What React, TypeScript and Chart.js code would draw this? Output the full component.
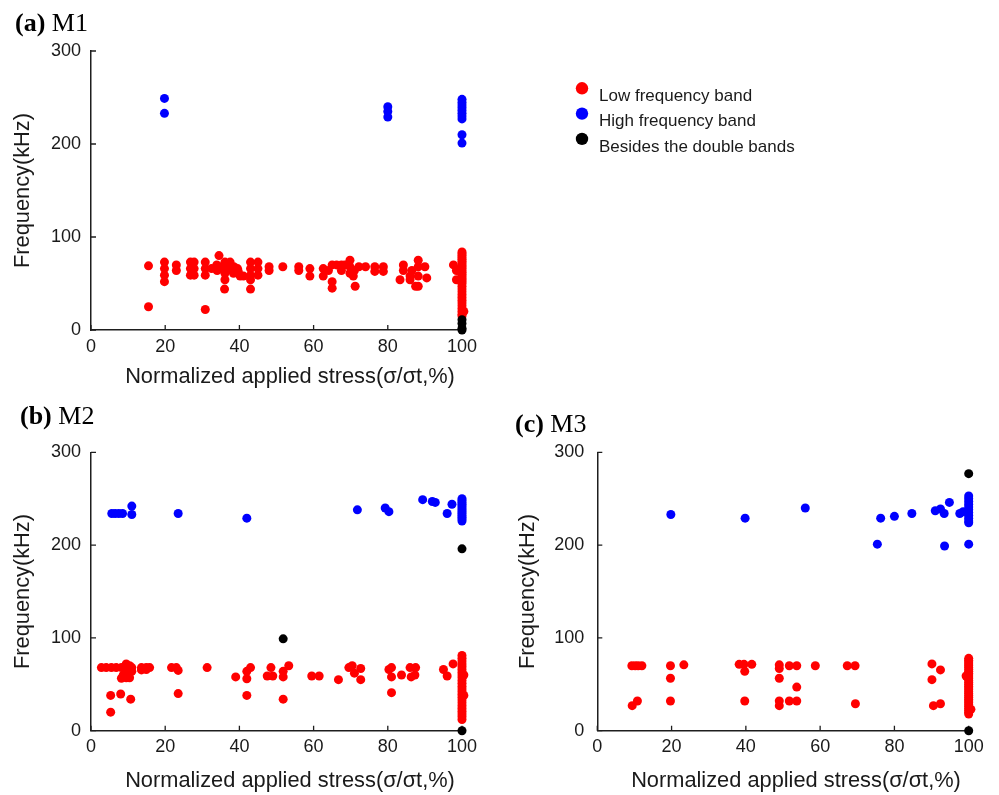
import React, { useEffect, useRef } from "react";
import { Chart, registerables } from "chart.js";

Chart.register(...registerables);

const SANS = '"Liberation Sans", Arial, sans-serif';
const SERIF = '"Liberation Serif", "Times New Roman", serif';
const AXIS = "#1e1e1e";
const TEXT = "#1a1a1a";

const seriesLabels = ["Low frequency band", "High frequency band", "Besides the double bands"];
const seriesColors = ["#ff0000", "#0000ff", "#000000"];
const xAxisTitle = "Normalized applied stress(σ/σt,%)";
const yAxisTitle = "Frequency(kHz)";
const xRange = [0, 100];
const yRange = [0, 300];
const xStep = 20;
const yStep = 100;

// ---- M1 ----
const m1Low: number[][] = [
  [15.5, 69], [15.5, 25],
  [19.8, 73], [19.8, 66], [19.8, 59], [19.8, 52],
  [23, 70], [23, 64],
  [26.8, 73], [26.8, 66], [26.8, 59], [27.8, 73], [27.8, 59], [27.8, 66],
  [30.8, 73], [30.8, 66], [30.8, 59], [30.8, 22],
  [32.5, 66], [33.9, 70], [34.5, 80], [35.2, 68], [36.1, 73], [37, 71], [36.1, 61], [36.1, 54],
  [37, 65], [38.4, 61], [39.7, 63], [40.2, 58], [41.1, 58], [36, 44], [37.5, 73], [38.5, 68],
  [39.5, 66], [34, 64],
  [43, 73], [43, 66], [43, 59], [43, 54], [43, 44],
  [45, 73], [45, 66], [45, 59],
  [48, 68], [48, 64],
  [51.7, 68],
  [56, 68], [56, 64],
  [59, 66], [59, 58],
  [62.6, 66], [62.6, 58],
  [65, 70], [65, 52], [65, 45], [64, 64],
  [66.2, 70], [67.5, 70], [68.4, 70], [69.8, 75], [69.8, 68], [69.8, 61], [70.7, 58], [71.2, 47],
  [72.2, 68], [67.5, 64], [71, 64], [74, 68],
  [76.5, 68], [76.5, 63], [78.8, 68], [78.8, 63],
  [83.3, 54], [84.2, 70], [84.2, 64], [86, 58], [86, 54], [86.5, 64],
  [88.2, 75], [88.2, 68], [88.2, 58], [88.2, 47], [87.5, 47], [90, 68], [90.5, 56],
  [97.7, 70], [98.5, 64], [98.5, 54], [99.5, 66], [99, 64], [100.5, 20],
  [100, 84], [100, 82], [100, 80], [100, 78], [100, 76], [100, 74], [100, 72], [100, 70],
  [100, 68], [100, 66], [100, 64], [100, 62], [100, 60], [100, 58], [100, 56], [100, 54],
  [100, 52], [100, 50], [100, 47], [100, 44], [100, 41], [100, 38], [100, 35], [100, 32],
  [100, 29], [100, 26], [100, 23], [100, 20], [100, 17], [100, 15],
];
const m1High: number[][] = [
  [19.8, 249], [19.8, 233], [80, 240], [80, 235], [80, 229],
  [100, 248], [100, 245], [100, 242], [100, 239], [100, 236], [100, 233], [100, 230], [100, 227],
  [100, 210], [100, 201],
];
const m1Besides: number[][] = [[100, 11], [100, 7], [100, 2], [100, 0]];

// ---- M2 ----
const m2Low: number[][] = [
  [2.8, 68], [4.1, 68], [5.5, 68], [6.8, 68], [8.2, 68], [9.1, 68], [9.5, 72], [10.4, 70], [11, 68],
  [9.5, 65], [10.4, 63], [8.7, 60], [9.5, 57], [10.4, 57], [8.2, 56.5], [11, 64],
  [13.6, 68], [14.9, 68], [15.8, 68], [13.6, 65.5], [14.9, 66],
  [21.7, 68], [23, 68], [23.5, 65], [23.5, 40],
  [31.3, 68],
  [39, 58], [42, 64], [42, 56], [43, 68], [42, 38],
  [47.5, 59], [48.5, 68], [49, 59],
  [51.8, 64], [51.8, 58], [53.3, 70], [51.8, 34],
  [59.5, 59], [61.5, 59], [66.7, 55],
  [69.5, 68], [70.4, 70], [71, 62], [72.7, 67], [72.7, 55],
  [80.3, 66], [81, 58], [81, 68], [81, 41], [83.7, 60],
  [86, 68], [86.3, 58], [87.5, 68], [87.3, 60],
  [95, 66], [96, 59], [97.6, 72],
  [5.3, 38], [8, 39.5], [10.7, 34], [5.3, 20],
  [100.5, 60], [100.5, 38],
  [100, 81], [100, 78], [100, 75], [100, 72], [100, 69], [100, 66], [100, 63], [100, 60],
  [100, 57], [100, 54], [100, 51], [100, 48], [100, 45], [100, 42], [100, 39], [100, 36],
  [100, 33], [100, 30], [100, 27], [100, 24], [100, 21], [100, 18], [100, 15], [100, 12],
];
const m2High: number[][] = [
  [5.6, 234], [6.5, 234], [7.5, 234], [8.5, 234], [11, 242], [11, 233], [23.5, 234], [42, 229],
  [71.8, 238], [79.3, 240], [80.3, 236], [89.4, 249], [92, 247], [92.8, 246], [96, 234], [97.3, 244],
  [100, 250], [100, 248], [100, 246], [100, 244], [100, 242], [100, 240], [100, 238], [100, 236],
  [100, 234], [100, 232], [100, 230], [100, 228], [100, 226],
];
const m2Besides: number[][] = [[51.8, 99], [100, 196], [100, 0]];

// ---- M3 ----
const m3Low: number[][] = [
  [9.3, 70], [10.2, 70], [11, 70], [12, 70], [9.4, 27], [10.8, 32],
  [19.7, 70], [19.7, 56.5], [19.7, 32], [23.3, 71],
  [38.2, 71.5], [39.5, 71.5], [41.6, 71.5], [39.7, 64], [39.7, 32],
  [49, 71], [49, 67], [49, 56.5], [49, 32], [49, 27],
  [51.7, 70], [53.7, 70], [51.7, 32], [53.7, 32], [53.7, 47],
  [58.7, 70], [67.3, 70], [69.4, 70], [69.5, 29],
  [90.1, 72], [92.4, 65.5], [90.1, 55], [90.5, 27], [92.4, 29],
  [99.3, 59], [100.6, 23],
  [100, 78], [100, 76], [100, 74], [100, 72], [100, 70], [100, 68], [100, 66], [100, 64],
  [100, 62], [100, 60], [100, 58], [100, 56], [100, 54], [100, 52], [100, 50], [100, 48],
  [100, 46], [100, 44], [100, 42], [100, 40], [100, 38], [100, 36], [100, 34], [100, 32],
  [100, 30], [100, 28], [100, 26], [100, 24], [100, 22], [100, 20], [100, 18],
];
const m3High: number[][] = [
  [19.8, 233], [39.8, 229], [56, 240], [75.4, 201], [76.3, 229], [80, 231], [84.7, 234],
  [91, 237], [92.4, 239], [93.4, 234], [93.5, 199], [94.8, 246], [97.6, 234], [98.5, 236],
  [100, 253], [100, 250], [100, 247], [100, 244], [100, 241], [100, 238], [100, 235], [100, 232],
  [100, 229], [100, 226], [100, 224], [100, 201],
];
const m3Besides: number[][] = [[100, 277], [100, 0]];

interface PanelSpec {
  tag: string;
  name: string;
  series: number[][][];
  box: { left: number; top: number; width: number; height: number };
  area: { l: number; r: number; t: number; b: number };
  titleX: number;
  titleBase: number;
  yTitleBase: number;
  xTitleBase: number;
  xTitleShift: number;
  yTickGap: number;
  legend: boolean;
}

const panels: PanelSpec[] = [
  {
    tag: "(a)", name: "M1", series: [m1Low, m1High, m1Besides],
    box: { left: 0, top: 0, width: 999, height: 395 },
    area: { l: 91, r: 462, t: 51, b: 330 },
    titleX: 15, titleBase: 31, yTitleBase: 29, xTitleBase: 383, xTitleShift: 13.5, yTickGap: 10, legend: true,
  },
  {
    tag: "(b)", name: "M2", series: [m2Low, m2High, m2Besides],
    box: { left: 0, top: 395, width: 500, height: 400 },
    area: { l: 91, r: 462, t: 57.3, b: 335.7 },
    titleX: 20, titleBase: 29, yTitleBase: 29, xTitleBase: 391.7, xTitleShift: 13.5, yTickGap: 10, legend: false,
  },
  {
    tag: "(c)", name: "M3", series: [m3Low, m3High, m3Besides],
    box: { left: 500, top: 395, width: 499, height: 400 },
    area: { l: 97.3, r: 468.7, t: 57.3, b: 335.7 },
    titleX: 15, titleBase: 37, yTitleBase: 34, xTitleBase: 391.7, xTitleShift: 13, yTickGap: 13, legend: false,
  },
];

function decoPlugin(p: PanelSpec) {
  return {
    id: "deco",
    beforeDatasetsDraw(chart: any) {
      const ctx = chart.ctx;
      const xs = chart.scales.x;
      const ys = chart.scales.y;
      const a = chart.chartArea;
      ctx.save();
      ctx.strokeStyle = AXIS;
      ctx.lineWidth = 1.3;
      ctx.beginPath();
      xs.ticks.forEach((t: any) => {
        const px = xs.getPixelForValue(t.value);
        ctx.moveTo(px, a.bottom);
        ctx.lineTo(px, a.bottom - 5);
      });
      ys.ticks.forEach((t: any) => {
        const py = ys.getPixelForValue(t.value);
        ctx.moveTo(a.left, py);
        ctx.lineTo(a.left + 5, py);
      });
      ctx.stroke();
      ctx.restore();
    },
    afterDraw(chart: any) {
      const ctx = chart.ctx;
      const a = chart.chartArea;
      ctx.save();
      // panel title
      ctx.fillStyle = "#000";
      ctx.textBaseline = "alphabetic";
      ctx.textAlign = "left";
      ctx.font = `bold 26px ${SERIF}`;
      ctx.fillText(p.tag, p.titleX, p.titleBase);
      const w = ctx.measureText(p.tag + " ").width;
      ctx.font = `26px ${SERIF}`;
      ctx.fillText(p.name, p.titleX + w, p.titleBase);
      // axis titles
      ctx.fillStyle = TEXT;
      ctx.font = `21.8px ${SANS}`;
      ctx.textAlign = "center";
      ctx.fillText(xAxisTitle, (a.left + a.right) / 2 + p.xTitleShift, p.xTitleBase);
      ctx.save();
      ctx.translate(p.yTitleBase, (a.top + a.bottom) / 2);
      ctx.rotate(-Math.PI / 2);
      ctx.fillText(yAxisTitle, 0, 0);
      ctx.restore();
      // legend
      if (p.legend) {
        const ds = chart.data.datasets;
        ctx.font = `17px ${SANS}`;
        ctx.textAlign = "left";
        for (let i = 0; i < ds.length; i++) {
          const cy = 88.3 + i * 25.3;
          ctx.beginPath();
          ctx.fillStyle = ds[i].backgroundColor;
          ctx.arc(582, cy, 6.2, 0, Math.PI * 2);
          ctx.fill();
          ctx.fillStyle = TEXT;
          ctx.fillText(ds[i].label, 599, cy + 12.8);
        }
      }
      ctx.restore();
    },
  };
}

function PanelChart({ p }: { p: PanelSpec }) {
  const ref = useRef<HTMLCanvasElement | null>(null);
  useEffect(() => {
    if (!ref.current) return;
    const tickFont = { family: SANS, size: 18 };
    const orders = [1, 2, 0];
    const datasets = p.series.map((s, i) => ({
      label: seriesLabels[i],
      data: s.map(([x, y]) => ({ x, y })),
      backgroundColor: seriesColors[i],
      borderColor: seriesColors[i],
      pointRadius: 4.5,
      pointHoverRadius: 4.5,
      pointBorderWidth: 0,
      order: orders[i],
      clip: false as any,
    }));
    const chart = new Chart(ref.current, {
      type: "scatter",
      data: { datasets },
      options: {
        animation: false,
        responsive: false,
        maintainAspectRatio: false,
        devicePixelRatio: 1,
        events: [],
        layout: { padding: { left: 0, top: p.area.t, right: p.box.width - p.area.r, bottom: 0 } },
        plugins: { legend: { display: false }, tooltip: { enabled: false } },
        scales: {
          x: {
            type: "linear",
            position: "bottom",
            min: xRange[0],
            max: xRange[1],
            afterFit: (s: any) => { s.height = p.box.height - p.area.b; },
            grid: { display: false, drawTicks: false },
            border: { display: true, color: AXIS, width: 1.5 },
            ticks: { stepSize: xStep, padding: 6, font: tickFont, color: TEXT, maxRotation: 0, autoSkip: false },
          },
          y: {
            type: "linear",
            position: "left",
            min: yRange[0],
            max: yRange[1],
            afterFit: (s: any) => { s.width = p.area.l; },
            grid: { display: false, drawTicks: false },
            border: { display: true, color: AXIS, width: 1.5 },
            ticks: { stepSize: yStep, padding: p.yTickGap, font: tickFont, color: TEXT },
          },
        },
      },
      plugins: [decoPlugin(p)],
    } as any);
    return () => chart.destroy();
  }, [p]);
  return (
    <canvas
      ref={ref}
      width={p.box.width}
      height={p.box.height}
      style={{ position: "absolute", left: p.box.left, top: p.box.top, width: p.box.width, height: p.box.height }}
    />
  );
}

export default function App() {
  return (
    <div style={{ position: "absolute", left: 0, top: 0, width: 999, height: 795, background: "#fff", overflow: "hidden" }}>
      {panels.map((p) => (
        <PanelChart key={p.tag} p={p} />
      ))}
    </div>
  );
}
